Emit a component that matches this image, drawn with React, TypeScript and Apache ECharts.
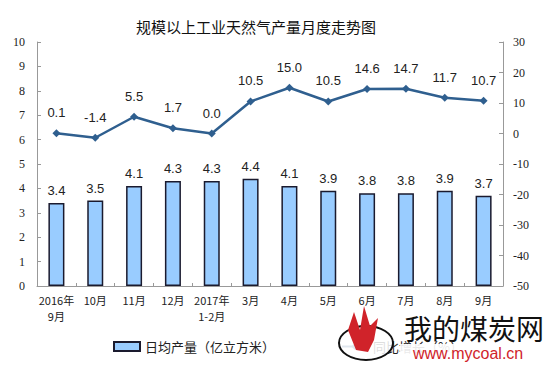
import React, { useEffect, useRef } from "react";
import * as echarts from "echarts";

const categories = ["2016年\n9月", "10月", "11月", "12月", "2017年\n1-2月", "3月", "4月", "5月", "6月", "7月", "8月", "9月"];
const dailyOutput = [3.4, 3.5, 4.1, 4.3, 4.3, 4.4, 4.1, 3.9, 3.8, 3.8, 3.9, 3.7];
const growth = [0.1, -1.4, 5.5, 1.7, 0.0, 10.5, 15.0, 10.5, 14.6, 14.7, 11.7, 10.7];
const barName = "日均产量（亿立方米）";
const lineName = "同比增长（%）";
const titleText = "规模以上工业天然气产量月度走势图";

export default function App() {
  const ref = useRef<HTMLDivElement>(null);
  useEffect(() => {
    if (!ref.current) return;
    const chart = echarts.init(ref.current, null, { renderer: "svg" });
    chart.setOption({
      animation: false,
      backgroundColor: "#ffffff",
      title: {
        text: titleText,
        left: 251,
        textAlign: "center",
        top: 14,
        textStyle: { fontSize: 15, fontWeight: "normal", color: "#111", fontFamily: "Noto Sans CJK SC" },
      },
      legend: {
        left: 108,
        top: 335,
        itemGap: 66,
        itemWidth: 26,
        itemHeight: 9,
        textStyle: { fontSize: 13, color: "#222", fontFamily: "Noto Sans CJK SC" },
        data: [
          { name: barName, icon: "rect" },
          { name: lineName },
        ],
      },
      grid: { left: 37, right: 51, top: 42, bottom: 90 },
      xAxis: {
        type: "category",
        data: categories,
        axisLine: { lineStyle: { color: "#999" } },
        axisTick: { show: true, alignWithLabel: false, inside: true, length: 3, lineStyle: { color: "#999" } },
        axisLabel: { interval: 0, fontSize: 11, color: "#222", lineHeight: 16, margin: 6, fontFamily: "Noto Sans CJK SC" },
      },
      yAxis: [
        {
          type: "value",
          min: 0,
          max: 10,
          interval: 1,
          splitLine: { show: false },
          axisLine: { show: true, lineStyle: { color: "#999" } },
          axisTick: { show: true, inside: true, length: 4, lineStyle: { color: "#999" } },
          axisLabel: { fontSize: 12, color: "#222", margin: 12, fontFamily: "Liberation Serif" },
        },
        {
          type: "value",
          min: -50,
          max: 30,
          interval: 10,
          splitLine: { show: false },
          axisLine: { show: true, lineStyle: { color: "#999" } },
          axisTick: { show: true, inside: true, length: 4, lineStyle: { color: "#999" } },
          axisLabel: { fontSize: 12, color: "#222", margin: 10, fontFamily: "Liberation Serif" },
        },
      ],
      series: [
        {
          name: barName,
          type: "bar",
          data: dailyOutput,
          barWidth: 16,
          itemStyle: { color: "#99CCFF", borderColor: "#1a1a2e", borderWidth: 1.5 },
          label: {
            show: true,
            position: "top",
            distance: 6,
            formatter: (p: any) => p.value.toFixed(1),
            fontSize: 13,
            color: "#222",
            fontFamily: "Liberation Sans",
          },
        },
        {
          name: lineName,
          type: "line",
          yAxisIndex: 1,
          data: growth,
          symbol: "diamond",
          symbolSize: 8,
          lineStyle: { color: "#2F5F8F", width: 2.5 },
          itemStyle: { color: "#2F5F8F" },
          label: {
            show: true,
            position: "top",
            distance: 10,
            formatter: (p: any) => p.value.toFixed(1),
            fontSize: 13,
            color: "#222",
            fontFamily: "Liberation Sans",
          },
        },
      ],
      graphic: [
        {
          type: "ellipse",
          shape: { cx: 366, cy: 343, rx: 27, ry: 17 },
          style: { fill: "rgba(255,255,255,0.85)", stroke: "#111", lineWidth: 2 },
          z: 100,
        },
        {
          type: "polygon",
          shape: { points: [[356, 350], [348, 330], [354, 312], [360, 330], [364, 306], [370, 326], [378, 318], [374, 340], [368, 352]] },
          style: { fill: "#d0232a" },
          z: 101,
        },
        {
          type: "rect",
          shape: { x: 400, y: 344, width: 140, height: 18 },
          style: { fill: "rgba(255,255,255,0.9)" },
          z: 100,
        },
        {
          type: "text",
          x: 404,
          y: 314,
          style: { text: "我的煤炭网", fontSize: 28, fill: "#111", fontFamily: "Noto Sans CJK SC" },
          z: 102,
        },
        {
          type: "text",
          x: 413,
          y: 345,
          style: { text: "www.mycoal.cn", fontSize: 16, fill: "#d0232a", fontFamily: "Liberation Sans" },
          z: 102,
        },
      ],
    });
    return () => chart.dispose();
  }, []);
  return <div ref={ref} style={{ width: 554, height: 376, position: "absolute", left: 0, top: 0 }} />;
}
